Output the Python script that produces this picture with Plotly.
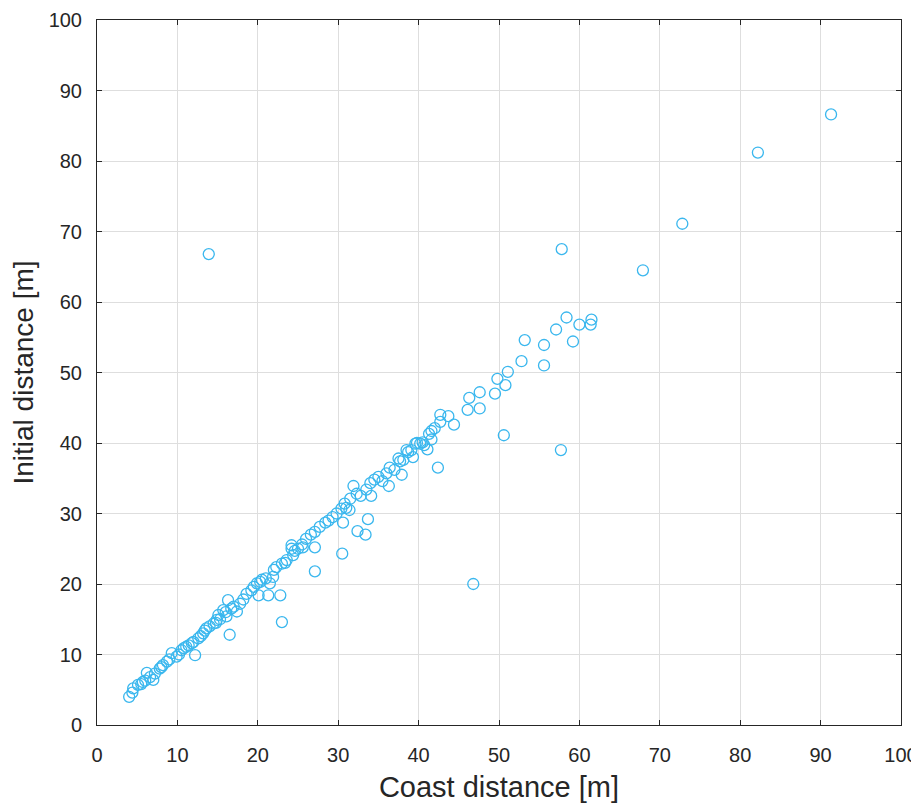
import plotly.graph_objects as go

coast_distance = [
    4.0, 4.4, 4.5, 5.1, 5.5, 5.7, 6.0, 6.2, 6.6, 7.0, 7.2, 7.8, 8.0, 8.2, 8.7, 9.0, 9.3, 9.9,
    10.2, 10.5, 10.8, 11.1, 11.4, 11.8, 12.0, 12.2, 12.6, 12.9, 13.2, 13.4, 13.6, 14.0, 14.5,
    14.8, 14.9, 15.1, 15.3, 15.7, 16.0, 16.1, 16.3, 16.5, 16.7, 17.0, 17.4, 17.8, 18.2, 18.6,
    19.2, 19.5, 19.9, 20.1, 20.3, 20.5, 21.0, 21.3, 21.5, 21.9, 22.0, 22.3, 22.8, 23.0, 23.0,
    23.4, 23.6, 24.2, 24.2, 24.4, 24.6, 25.0, 25.5, 25.6, 26.0, 26.6, 27.1, 27.1, 27.1, 27.7,
    28.4, 28.8, 29.3, 29.8, 30.4, 30.5, 30.6, 30.8, 31.0, 31.4, 31.5, 31.9, 32.3, 32.4, 32.8,
    33.4, 33.5, 33.7, 34.0, 34.1, 34.5, 35.0, 35.5, 36.0, 36.3, 36.4, 37.0, 37.5, 37.7, 37.9,
    38.1, 38.5, 38.7, 39.1, 39.3, 39.6, 39.8, 40.2, 40.5, 40.7, 41.1, 41.3, 41.6, 41.6, 42.0,
    42.4, 42.7, 42.7, 43.7, 44.4, 46.1, 46.3, 46.8, 47.6, 47.6, 49.5, 49.8, 50.6, 50.8, 51.1,
    52.8, 53.2, 55.6, 55.6, 57.1, 57.7, 57.8, 58.4, 59.2, 60.0, 61.4, 61.5, 67.9, 72.8, 82.2,
    91.3, 13.9,
]

initial_distance = [
    4.0, 4.6, 5.2, 5.7, 5.8, 6.1, 6.3, 7.4, 6.8, 6.4, 7.3, 8.0, 8.2, 8.5, 9.0, 9.3, 10.2, 9.7,
    10.0, 10.6, 10.9, 11.1, 11.3, 11.6, 11.8, 9.9, 12.3, 12.6, 13.0, 13.4, 13.7, 14.0, 14.4,
    14.5, 14.9, 15.6, 15.0, 16.3, 16.0, 15.4, 17.7, 12.8, 16.5, 16.8, 16.1, 17.2, 17.8, 18.6,
    19.1, 19.6, 20.1, 18.4, 20.3, 20.6, 20.8, 18.4, 20.1, 21.0, 22.0, 22.4, 18.4, 22.9, 14.6,
    23.0, 23.4, 25.0, 25.5, 24.1, 24.7, 25.0, 25.6, 25.2, 26.4, 27.0, 27.4, 25.2, 21.8, 28.1,
    28.7, 29.0, 29.5, 30.0, 30.7, 24.3, 28.7, 31.4, 30.8, 30.5, 32.1, 33.9, 32.8, 27.5, 32.5,
    27.0, 33.4, 29.2, 34.3, 32.5, 34.8, 35.2, 34.6, 35.7, 33.9, 36.5, 36.2, 37.8, 37.4, 35.5,
    37.6, 39.0, 38.7, 39.0, 38.0, 39.9, 40.0, 39.9, 40.1, 39.7, 39.1, 41.3, 41.7, 40.5, 42.1,
    36.5, 43.0, 44.0, 43.8, 42.6, 44.7, 46.4, 20.0, 44.9, 47.2, 47.0, 49.1, 41.1, 48.2, 50.1,
    51.6, 54.6, 51.0, 53.9, 56.1, 39.0, 67.5, 57.8, 54.4, 56.8, 56.8, 57.5, 64.5, 71.1, 81.2,
    86.6, 66.8,
]

FONT = "Liberation Sans, Arial, sans-serif"

fig = go.Figure()
fig.add_trace(go.Scatter(
    x=coast_distance, y=initial_distance, mode="markers",
    marker=dict(symbol="circle-open", size=11, color="#3AB7EE", line=dict(width=1.3, color="#3AB7EE")),
    showlegend=False,
))

axis_common = dict(
    range=[0, 100], dtick=10, showgrid=True, gridcolor="#dedede", gridwidth=1,
    showline=True, linecolor="#262626", linewidth=1, mirror="ticks",
    ticks="inside", ticklen=5, tickcolor="#262626", tickwidth=1,
    zeroline=False, fixedrange=True, automargin=False,
    tickfont=dict(family=FONT, size=20, color="#262626"),
    title_font=dict(family=FONT, size=28, color="#262626"),
)

fig.update_xaxes(**axis_common, title_text="Coast distance [m]", title_standoff=13,
                 ticklabelstandoff=12, title_font_size=29)
fig.update_yaxes(**axis_common, title_text="Initial distance [m]", title_standoff=14,
                 ticklabelstandoff=10)

# page body has an 8px default margin, so the figure is sized/offset to compensate
fig.update_layout(
    width=911, height=795,
    margin=dict(l=89, r=18, t=12, b=78),
    plot_bgcolor="white", paper_bgcolor="white",
)

fig.write_html("out.html")
